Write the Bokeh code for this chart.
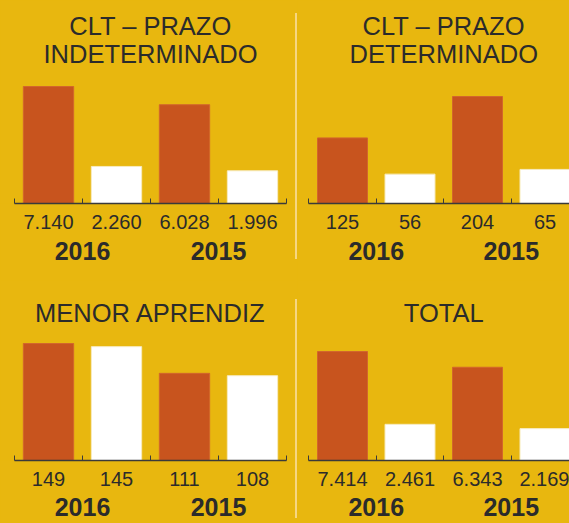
from bokeh.plotting import figure
from bokeh.models import Range1d, LinearAxis, FixedTicker, Label, Div
from bokeh.layouts import row, column
from bokeh.embed import file_html
from bokeh.resources import INLINE

# ---- data ----
YEARS = ["2016", "2015"]
TITLE_CLT_INDET = ["CLT – PRAZO", "INDETERMINADO"]
TITLE_CLT_DET = ["CLT – PRAZO", "DETERMINADO"]
TITLE_APRENDIZ = ["MENOR APRENDIZ"]
TITLE_TOTAL = ["TOTAL"]
# order: 2016 (orange, white), 2015 (orange, white)
CLT_INDET = [7140, 2260, 6028, 1996]
CLT_DET = [125, 56, 204, 65]
APRENDIZ = [149, 145, 111, 108]
TOTAL = [7414, 2461, 6343, 2169]

# ---- style ----
BG = "#E8B70F"
ORANGE = "#C8541E"
WHITE = "#FFFFFF"
TEXT = "#2b2b2b"
AXIS = "#3a3a3a"
SEP = "#F6D682"
FONT = "Liberation Sans"
BAR_COLORS = [ORANGE, WHITE, ORANGE, WHITE]
BAR_LINES = ["#D2662C", "#F7EBC0", "#D2662C", "#F7EBC0"]


def fmt(v):
    return f"{v:,}".replace(",", ".")


def panel(values, title_lines, width, height, fig_left, fig_top, center0, step,
          baseline, max_bar_px, title_centers, value_standoff, year_standoff):
    frame_h = baseline - fig_top
    y_end = max(values) * frame_h / max_bar_px
    x0 = (fig_left - center0) / step
    x1 = (fig_left + width - center0) / step
    p = figure(width=width, height=height,
               x_range=Range1d(x0, x1), y_range=Range1d(0, y_end),
               output_backend="svg", toolbar_location=None,
               x_axis_location=None, y_axis_location=None,
               min_border_left=0, min_border_right=0, min_border_top=0,
               min_border_bottom=height - frame_h,
               background_fill_color=BG, border_fill_color=BG,
               outline_line_color=None)
    p.grid.visible = False
    idx = list(range(len(values)))
    p.vbar(x=idx, top=values, bottom=0, width=0.74,
           fill_color=BAR_COLORS, line_color=BAR_LINES, line_width=1)

    ax = LinearAxis(ticker=FixedTicker(ticks=idx, minor_ticks=[i - 0.5 for i in range(len(values) + 1)]),
                    bounds=(-0.5, len(values) - 0.5))
    ax.major_label_overrides = {i: fmt(v) for i, v in enumerate(values)}
    ax.axis_line_color = AXIS
    ax.axis_line_width = 1.5
    ax.major_tick_line_color = None
    ax.major_tick_in = 0
    ax.major_tick_out = 0
    ax.minor_tick_line_color = AXIS
    ax.minor_tick_line_width = 1
    ax.minor_tick_in = 5
    ax.minor_tick_out = 0
    ax.major_label_standoff = value_standoff
    ax.major_label_text_font = FONT
    ax.major_label_text_font_size = "20px"
    ax.major_label_text_color = TEXT
    p.add_layout(ax, "below")

    yax = LinearAxis(ticker=FixedTicker(ticks=[0.5, 2.5]))
    yax.major_label_overrides = {0.5: YEARS[0], 2.5: YEARS[1]}
    yax.axis_line_color = None
    yax.major_tick_line_color = None
    yax.minor_tick_line_color = None
    yax.major_tick_in = 0
    yax.major_tick_out = 0
    yax.major_label_standoff = year_standoff
    yax.major_label_text_font = FONT
    yax.major_label_text_font_size = "25px"
    yax.major_label_text_font_style = "bold"
    yax.major_label_text_color = TEXT
    p.add_layout(yax, "below")

    scale = y_end / frame_h
    for line, cy in zip(title_lines, title_centers):
        p.add_layout(Label(x=1.5, y=(baseline - cy) * scale, text=line,
                           text_align="center", text_baseline="middle",
                           text_font=FONT, text_font_size="25.5px",
                           text_color=TEXT))
    return p


p1 = panel(CLT_INDET, TITLE_CLT_INDET, 295, 280, 0, 0, 48, 68, 203, 117, [25, 53], 11, 10)
p2 = panel(CLT_DET, TITLE_CLT_DET, 272, 280, 297, 0, 342, 67.5, 203, 107, [25, 53], 11, 10)
p3 = panel(APRENDIZ, TITLE_APRENDIZ, 295, 243, 0, 280, 48, 68, 460, 117, [312], 11, 9)
p4 = panel(TOTAL, TITLE_TOTAL, 272, 243, 297, 280, 342, 67.5, 460, 109, [312], 11, 9)

sep1 = Div(width=2, height=246, margin=(13, 0, 21, 0), styles={"background-color": SEP})
sep2 = Div(width=2, height=219, margin=(19, 0, 5, 0), styles={"background-color": SEP})

layout = column(row(p1, sep1, p2, spacing=0), row(p3, sep2, p4, spacing=0), spacing=0,
                styles={"background-color": BG})

open("out.html", "w").write(file_html(layout, INLINE))
